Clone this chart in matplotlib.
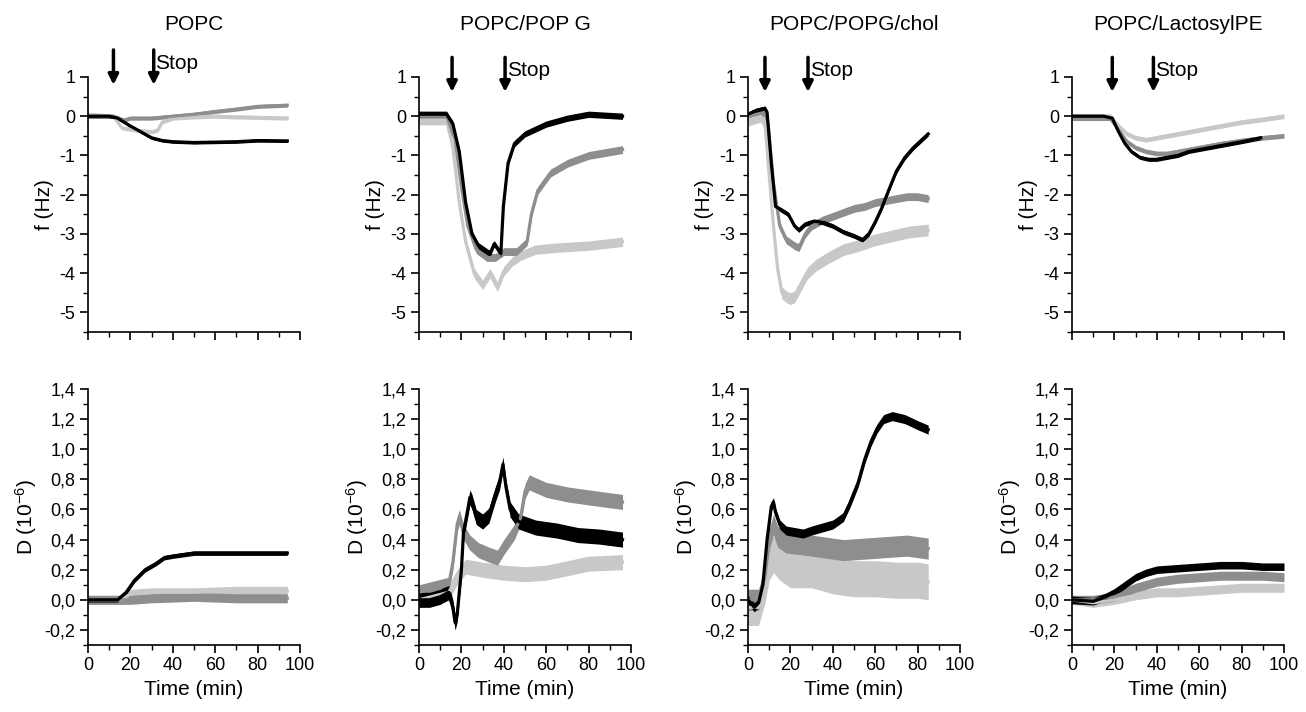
import matplotlib
matplotlib.use("Agg")
import matplotlib.pyplot as plt
import numpy as np
from matplotlib.ticker import MultipleLocator, FuncFormatter

plt.rcParams['font.family'] = ['Liberation Sans', 'DejaVu Sans']
plt.rcParams['mathtext.default'] = 'regular'

titles = ['POPC', 'POPC/POP G', 'POPC/POPG/chol', 'POPC/LactosylPE']
# injection start / stop times (min) for each panel
arrow_start = [12, 15.6, 8, 19]
arrow_stop = [31, 40.6, 28.3, 38.4]

# ---- POPC ----
popc_f_t_black = [0, 10, 14, 20, 25, 30, 35, 40, 50, 60, 70, 80, 94]
popc_f_black = [0, 0, -0.05, -0.25, -0.4, -0.55, -0.62, -0.65, -0.67, -0.66, -0.65, -0.62, -0.63]
popc_f_t_mid = [0, 12, 17, 20, 30, 40, 50, 60, 70, 80, 94]
popc_f_mid = [0, 0, -0.1, -0.05, -0.05, 0.0, 0.05, 0.12, 0.18, 0.25, 0.28]
popc_f_t_light = [0, 12, 16, 22, 30, 33, 35, 40, 50, 60, 70, 80, 94]
popc_f_light = [0.05, 0, -0.3, -0.35, -0.4, -0.35, -0.15, -0.05, -0.02, 0, -0.02, -0.03, -0.05]

popc_d_t_black = [0, 14, 18, 22, 27, 32, 36, 40, 50, 60, 70, 80, 94]
popc_d_black = [0, 0, 0.05, 0.13, 0.2, 0.24, 0.28, 0.29, 0.31, 0.31, 0.31, 0.31, 0.31]
popc_d_t_mid = [0, 16, 20, 30, 50, 70, 94]
popc_d_mid = [0, 0, 0.0, 0.01, 0.02, 0.01, 0.01]
popc_d_t_light = [0, 16, 20, 30, 50, 70, 94]
popc_d_light = [0, 0, 0.04, 0.05, 0.05, 0.06, 0.06]

# ---- POPC/POPG ----
popg_f_t_black = [0, 13, 16, 19, 22, 25, 28, 32, 33.5, 35.5, 38.6, 39.8, 42, 45, 50, 60, 70, 80, 96]
popg_f_black = [0.05, 0.05, -0.2, -0.9, -2.2, -3.0, -3.3, -3.45, -3.5, -3.25, -3.5, -2.3, -1.2, -0.7, -0.45, -0.2, -0.05, 0.05, 0.0]
popg_f_t_mid = [0, 13, 17, 20, 23, 27, 32, 36, 40, 46, 51, 53, 56, 62, 70, 80, 96]
popg_f_mid = [0, 0, -0.6, -1.8, -2.8, -3.4, -3.6, -3.6, -3.45, -3.45, -3.2, -2.5, -1.9, -1.45, -1.2, -1.0, -0.85]
popg_f_t_light = [0, 13, 16, 19, 22, 26, 30, 33.5, 37, 40, 44, 48, 55, 65, 80, 96]
popg_f_light = [-0.1, -0.1, -0.8, -2.2, -3.2, -4.0, -4.3, -4.0, -4.35, -3.95, -3.7, -3.55, -3.4, -3.35, -3.3, -3.2]

popg_d_t_black = [0, 5, 10, 14, 16, 17, 18, 20, 21, 23, 24, 25, 27, 30, 33, 36, 38, 39.6, 41, 43, 47, 55, 65, 75, 85, 96]
popg_d_black = [0.0, 0.0, 0.02, 0.05, -0.05, -0.15, -0.1, 0.2, 0.45, 0.6, 0.68, 0.65, 0.55, 0.52, 0.56, 0.7, 0.78, 0.9, 0.75, 0.6, 0.52, 0.48, 0.46, 0.43, 0.42, 0.4]
popg_d_t_mid = [0, 14, 16, 18, 19, 21, 24, 28, 33, 37, 40, 45, 48, 50, 52, 60, 70, 80, 96]
popg_d_mid = [0.05, 0.1, 0.25, 0.5, 0.55, 0.45, 0.38, 0.33, 0.3, 0.28, 0.35, 0.45, 0.55, 0.72, 0.78, 0.73, 0.7, 0.68, 0.65]
popg_d_t_light = [0, 14, 18, 22, 30, 40, 50, 60, 70, 80, 96]
popg_d_light = [0.0, 0.05, 0.15, 0.22, 0.2, 0.18, 0.17, 0.18, 0.21, 0.24, 0.25]

# ---- POPC/POPG/chol ----
chol_f_t_black = [0, 4, 8, 9, 11, 13, 16, 19, 22, 24, 27, 31, 35, 40, 45, 50, 54, 57, 60, 63, 67, 70, 74, 78, 82, 85]
chol_f_black = [0.05, 0.15, 0.2, 0.1, -1.2, -2.3, -2.4, -2.5, -2.8, -2.9, -2.75, -2.68, -2.7, -2.8, -2.95, -3.05, -3.15, -3.0, -2.7, -2.35, -1.8, -1.4, -1.05, -0.8, -0.6, -0.45]
chol_f_t_mid = [0, 8, 9.5, 12, 15, 18, 22, 24, 27, 30, 35, 40, 45, 50, 55, 60, 65, 70, 75, 80, 85]
chol_f_mid = [0.0, 0.1, -0.2, -1.7, -2.8, -3.15, -3.3, -3.35, -3.0, -2.8, -2.65, -2.55, -2.45, -2.35, -2.3, -2.2, -2.15, -2.1, -2.05, -2.05, -2.1]
chol_f_t_light = [0, 6, 8, 10, 12, 14, 16, 18, 20, 22, 25, 28, 32, 38, 45, 52, 60, 68, 76, 85]
chol_f_light = [-0.1, 0.0, -0.2, -1.5, -2.8, -3.9, -4.5, -4.6, -4.65, -4.6, -4.3, -4.0, -3.8, -3.6, -3.4, -3.3, -3.15, -3.05, -2.95, -2.9]

chol_d_t_black = [0, 3, 5, 7, 9, 11, 12, 13, 15, 18, 22, 26, 30, 35, 40, 45, 48, 52, 55, 58, 61, 64, 68, 74, 80, 85]
chol_d_black = [0.0, -0.05, -0.02, 0.1, 0.4, 0.62, 0.65, 0.58, 0.5, 0.46, 0.45, 0.44, 0.46, 0.48, 0.5, 0.55, 0.64, 0.78, 0.93, 1.05, 1.14, 1.2, 1.22, 1.2, 1.16, 1.13]
chol_d_t_mid = [0, 5, 8, 10, 12, 14, 18, 25, 35, 45, 55, 65, 75, 85]
chol_d_mid = [0.0, 0.0, 0.15, 0.4, 0.5, 0.42, 0.38, 0.37, 0.35, 0.33, 0.34, 0.35, 0.36, 0.34]
chol_d_t_light = [0, 5, 8, 10, 12, 15, 20, 30, 40, 50, 60, 70, 80, 85]
chol_d_light = [-0.05, -0.05, 0.1, 0.25, 0.3, 0.25, 0.2, 0.2, 0.16, 0.14, 0.14, 0.13, 0.13, 0.12]

# ---- POPC/LactosylPE ----
lac_f_t_black = [0, 15, 19, 22, 25, 28, 32, 36, 40, 45, 50, 55, 60, 70, 80, 89]
lac_f_black = [0.0, 0.0, -0.05, -0.4, -0.7, -0.9, -1.05, -1.1, -1.1, -1.05, -1.0, -0.9, -0.85, -0.75, -0.65, -0.55]
lac_f_t_mid = [0, 18, 22, 26, 30, 35, 40, 45, 50, 60, 70, 80, 90, 100]
lac_f_mid = [-0.05, -0.05, -0.35, -0.65, -0.8, -0.9, -0.95, -0.95, -0.9, -0.8, -0.7, -0.62, -0.55, -0.5]
lac_f_t_light = [0, 18, 22, 26, 30, 35, 40, 50, 60, 70, 80, 90, 100]
lac_f_light = [0.0, 0.0, -0.25, -0.45, -0.55, -0.6, -0.55, -0.45, -0.35, -0.25, -0.15, -0.08, 0.0]

lac_d_t_black = [0, 10, 16, 20, 25, 30, 35, 40, 50, 60, 70, 80, 90, 100]
lac_d_black = [0.0, -0.01, 0.02, 0.05, 0.1, 0.15, 0.18, 0.2, 0.21, 0.22, 0.23, 0.23, 0.22, 0.22]
lac_d_t_mid = [0, 10, 20, 30, 40, 50, 60, 70, 80, 90, 100]
lac_d_mid = [0.0, 0.0, 0.02, 0.08, 0.12, 0.14, 0.15, 0.16, 0.16, 0.16, 0.15]
lac_d_t_light = [0, 10, 20, 30, 40, 50, 60, 70, 80, 90, 100]
lac_d_light = [0.0, -0.02, 0.0, 0.03, 0.05, 0.05, 0.06, 0.07, 0.08, 0.08, 0.08]

# noise band half-width (light, mid, black)
f_noise = [[0.05, 0.05, 0.04], [0.12, 0.1, 0.08], [0.15, 0.1, 0.06], [0.06, 0.06, 0.05]]
d_noise = [[0.03, 0.03, 0.015], [0.05, 0.05, 0.05], [0.12, 0.07, 0.03], [0.03, 0.03, 0.025]]

freq_data = [
    [(popc_f_t_light, popc_f_light), (popc_f_t_mid, popc_f_mid), (popc_f_t_black, popc_f_black)],
    [(popg_f_t_light, popg_f_light), (popg_f_t_mid, popg_f_mid), (popg_f_t_black, popg_f_black)],
    [(chol_f_t_light, chol_f_light), (chol_f_t_mid, chol_f_mid), (chol_f_t_black, chol_f_black)],
    [(lac_f_t_light, lac_f_light), (lac_f_t_mid, lac_f_mid), (lac_f_t_black, lac_f_black)],
]
diss_data = [
    [(popc_d_t_light, popc_d_light), (popc_d_t_mid, popc_d_mid), (popc_d_t_black, popc_d_black)],
    [(popg_d_t_light, popg_d_light), (popg_d_t_mid, popg_d_mid), (popg_d_t_black, popg_d_black)],
    [(chol_d_t_light, chol_d_light), (chol_d_t_mid, chol_d_mid), (chol_d_t_black, chol_d_black)],
    [(lac_d_t_light, lac_d_light), (lac_d_t_mid, lac_d_mid), (lac_d_t_black, lac_d_black)],
]

colors = ['#c8c8c8', '#8e8e8e', '#000000']
W, H = 1306, 712
lefts = [88, 419, 748, 1072]

fig = plt.figure(figsize=(W / 100, H / 100), dpi=100)


def style_axis(ax):
    ax.spines['top'].set_visible(False)
    ax.spines['right'].set_visible(False)
    ax.set_xlim(0, 100)
    ax.xaxis.set_major_locator(MultipleLocator(20))
    ax.xaxis.set_minor_locator(MultipleLocator(10))
    ax.tick_params(which='major', direction='out', length=6, width=1.2, labelsize=13, pad=3)
    ax.tick_params(which='minor', direction='out', length=3.5, width=1.0)
    for s in ('left', 'bottom'):
        ax.spines[s].set_linewidth(1.2)


def draw_traces(ax, traces, noise):
    for (t, v), c, w in zip(traces, colors, noise):
        v = np.asarray(v)
        ax.fill_between(t, v - w, v + w, color=c, lw=0)
        ax.plot(t, v, color=c, lw=2.3)


for i in range(4):
    # frequency panel
    ax = fig.add_axes([lefts[i] / W, 1 - 332 / H, 212 / W, 255 / H])
    style_axis(ax)
    draw_traces(ax, freq_data[i], f_noise[i])
    ax.set_ylim(-5.5, 1)
    ax.yaxis.set_major_locator(MultipleLocator(1))
    ax.yaxis.set_minor_locator(MultipleLocator(0.5))
    ax.yaxis.set_major_formatter(FuncFormatter(lambda v, p: f"{round(v):d}"))
    ax.tick_params(axis='x', labelbottom=False)
    ax.set_ylabel('f (Hz)', fontsize=15)
    ax.set_title(titles[i], fontsize=15, pad=34)

    y_top, y_tip = (1.69, 0.80) if i == 0 else (1.5, 0.62)
    for t0 in (arrow_start[i], arrow_stop[i]):
        ax.annotate('', xy=(t0, y_tip), xytext=(t0, y_top), annotation_clip=False,
                    arrowprops=dict(arrowstyle='-|>', color='black', lw=2.5,
                                    mutation_scale=15, shrinkA=0, shrinkB=0))
    ax.text(arrow_stop[i] + 0.8, (y_top + y_tip) / 2 + 0.1, 'Stop', fontsize=15,
            va='center', ha='left', clip_on=False)

    # dissipation panel
    ax = fig.add_axes([lefts[i] / W, 1 - 645 / H, 212 / W, 256 / H])
    style_axis(ax)
    draw_traces(ax, diss_data[i], d_noise[i])
    ax.set_ylim(-0.3, 1.4)
    ax.yaxis.set_major_locator(MultipleLocator(0.2))
    ax.yaxis.set_minor_locator(MultipleLocator(0.1))
    ax.yaxis.set_major_formatter(FuncFormatter(
        lambda v, p: f"{round(v, 1) + 0.0:.1f}".replace('.', ',')))
    ax.set_ylabel('D (10$^{-6}$)', fontsize=15)
    ax.set_xlabel('Time (min)', fontsize=15)

fig.savefig('out.png', dpi=100)
